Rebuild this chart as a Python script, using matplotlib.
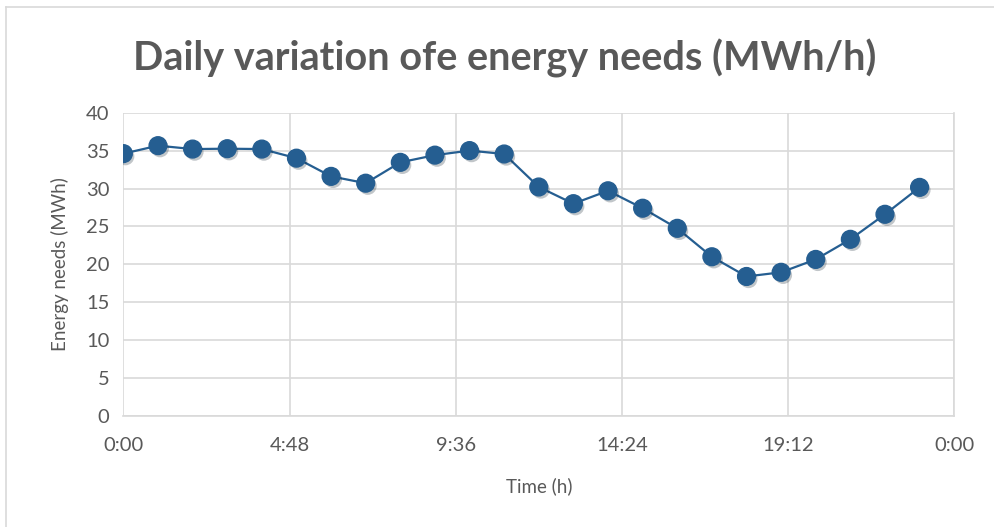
import matplotlib
matplotlib.use("Agg")
import matplotlib.pyplot as plt
from matplotlib.lines import Line2D
import matplotlib.patheffects as pe

hours = list(range(24))
energy = [34.6, 35.65, 35.2, 35.25, 35.2, 34.0, 31.6, 30.7, 33.45, 34.4, 35.0, 34.55,
          30.2, 28.0, 29.7, 27.4, 24.75, 21.0, 18.4, 18.95, 20.65, 23.3, 26.6, 30.15]
xtick_vals = [0, 0.2, 0.4, 0.6, 0.8, 1.0]
xtick_labels = ["0:00", "4:48", "9:36", "14:24", "19:12", "0:00"]
yticks = [0, 5, 10, 15, 20, 25, 30, 35, 40]

title = "Daily variation ofe energy needs (MWh/h)"
xlabel = "Time (h)"
ylabel = "Energy needs (MWh)"

txt = "#595959"
grid = "#D9D9D9"
blue = "#255E91"
FONT = "Lato"

fig = plt.figure(figsize=(9.95, 5.27), dpi=100)
fig.patch.set_facecolor("white")
ax = fig.add_axes([0.124, 0.2106, 0.835, 0.5756])

x = [h / 24 for h in hours]
ax.plot(x, energy, color=blue, lw=1.6, zorder=3)
ax.plot(x, energy, linestyle="none", marker="o", markersize=12.8,
        markerfacecolor=blue, markeredgecolor=blue, zorder=4,
        path_effects=[pe.SimplePatchShadow(offset=(1.5, -2), alpha=0.25), pe.Normal()])

ax.set_xlim(0, 1)
ax.set_ylim(0, 40)
ax.set_xticks(xtick_vals)
ax.set_xticklabels(xtick_labels)
ax.set_yticks(yticks)
ax.grid(True, color=grid, lw=1.2)
ax.set_axisbelow(True)
for s in ["top", "left"]:
    ax.spines[s].set_visible(False)
ax.spines["right"].set_color(grid)
ax.spines["right"].set_linewidth(1.2)
ax.spines["bottom"].set_color(grid)
ax.spines["bottom"].set_linewidth(1.2)
ax.tick_params(length=0, labelsize=14.5, colors=txt)
ax.tick_params(axis="x", pad=15)
ax.tick_params(axis="y", pad=10)
for lab in ax.get_xticklabels() + ax.get_yticklabels():
    lab.set_family(FONT)

ax.set_xlabel(xlabel, fontsize=13.5, color=txt, family=FONT, labelpad=17)
ax.set_ylabel(ylabel, fontsize=13.5, color=txt, family=FONT, labelpad=12)

fig.text(0.507, 0.89, title, ha="center", va="center", fontsize=28.5,
         fontweight="bold", color=txt, family=FONT)

# outer chart border (left and top visible)
fig.add_artist(Line2D([0.006, 0.006], [0, 0.987], transform=fig.transFigure, color=grid, lw=1.2))
fig.add_artist(Line2D([0.006, 1.0], [0.987, 0.987], transform=fig.transFigure, color=grid, lw=1.2))

fig.savefig("out.png", dpi=100)
